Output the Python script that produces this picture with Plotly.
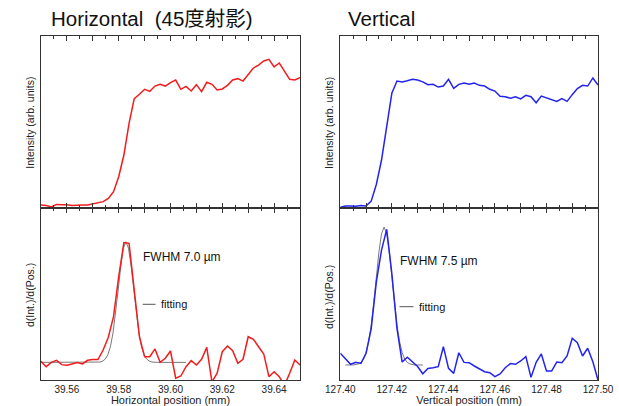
import plotly.graph_objects as go

# ---------------- data ----------------
h_x = [round(39.550 + 0.002 * i, 3) for i in range(51)]
h_int = [0.017, 0.014, 0.006, 0.021, 0.019, 0.019, 0.014, 0.017, 0.017, 0.017,
         0.023, 0.027, 0.037, 0.056, 0.095, 0.182, 0.308, 0.492, 0.636, 0.661,
         0.690, 0.678, 0.709, 0.719, 0.709, 0.729, 0.744, 0.690, 0.707, 0.680,
         0.717, 0.676, 0.731, 0.719, 0.686, 0.692, 0.713, 0.744, 0.752, 0.738,
         0.773, 0.814, 0.831, 0.855, 0.864, 0.820, 0.843, 0.793, 0.748, 0.744,
         0.758]
h_der = [0.110, 0.079, 0.104, 0.116, 0.091, 0.087, 0.095, 0.103, 0.095, 0.116,
         0.120, 0.120, 0.176, 0.250, 0.369, 0.602, 0.799, 0.795, 0.524, 0.253,
         0.137, 0.137, 0.182, 0.104, 0.128, 0.170, 0.012, 0.025, 0.079, 0.114,
         0.089, 0.122, 0.191, -0.010, 0.041, 0.166, 0.199, 0.172, 0.099, 0.122,
         0.253, 0.238, 0.195, 0.153, 0.021, 0.050, 0.021, -0.030, 0.041, 0.118,
         0.089]
h_fit_x = [39.550, 39.570, 39.5728, 39.5738, 39.5748, 39.5758, 39.5768, 39.5778,
           39.5788, 39.5798, 39.5808, 39.5818, 39.5828, 39.5838, 39.5848, 39.5858,
           39.5868, 39.5878, 39.5888, 39.5898, 39.5908, 39.5918, 39.5928, 39.595, 39.606]
h_fit_y = [0.104, 0.104, 0.106, 0.111, 0.123, 0.148, 0.195, 0.274, 0.387, 0.524,
           0.662, 0.766, 0.804, 0.766, 0.662, 0.524, 0.387, 0.274, 0.195, 0.148,
           0.123, 0.111, 0.106, 0.104, 0.104]

v_x = [round(127.400 + 0.002 * i, 3) for i in range(51)]
v_int = [0.004, 0.012, 0.012, 0.010, 0.014, 0.012, 0.040, 0.138, 0.279, 0.473,
         0.667, 0.738, 0.733, 0.740, 0.748, 0.744, 0.733, 0.717, 0.719, 0.703,
         0.709, 0.748, 0.696, 0.719, 0.727, 0.719, 0.727, 0.713, 0.709, 0.690,
         0.680, 0.649, 0.647, 0.638, 0.647, 0.634, 0.655, 0.647, 0.612, 0.651,
         0.641, 0.632, 0.620, 0.636, 0.620, 0.659, 0.694, 0.713, 0.709, 0.756,
         0.715]
v_der = [0.157, 0.128, 0.093, 0.104, 0.098, 0.157, 0.300, 0.573, 0.756, 0.876,
         0.620, 0.300, 0.106, 0.134, 0.106, 0.080, 0.038, 0.069, 0.073, 0.079,
         0.195, 0.069, 0.040, 0.160, 0.104, 0.102, 0.083, 0.064, 0.050, 0.044,
         0.021, 0.037, 0.073, 0.097, 0.093, 0.112, 0.137, 0.017, 0.104, 0.153,
         0.054, 0.054, 0.106, 0.102, 0.141, 0.244, 0.218, 0.141, 0.186, 0.108,
         0.002]
v_fit_x = [127.402, 127.405, 127.407, 127.408, 127.409, 127.410, 127.411, 127.412,
           127.413, 127.414, 127.415, 127.416, 127.417, 127.418, 127.419, 127.420,
           127.421, 127.422, 127.423, 127.424, 127.425, 127.426, 127.427, 127.429, 127.432]
v_fit_y = [0.089, 0.089, 0.095, 0.104, 0.123, 0.161, 0.225, 0.322, 0.453, 0.602,
           0.746, 0.851, 0.889, 0.851, 0.746, 0.602, 0.453, 0.322, 0.225, 0.161,
           0.123, 0.104, 0.095, 0.089, 0.089]

h_ticks = [39.56, 39.58, 39.60, 39.62, 39.64]
v_ticks = [127.40, 127.42, 127.44, 127.46, 127.48, 127.50]
h_range = [39.55, 39.65]
v_range = [127.40, 127.50]

# ---------------- layout helpers ----------------
W, H = 619, 406
FONT = "Liberation Sans, Arial, Noto Sans CJK JP, sans-serif"
RED = "#f21c1c"
BLUE = "#2323f0"
FITC = "#555555"

def px(x):
    return x / W

def py(y):
    return 1 - y / H

LX = [px(41), px(300)]
RX = [px(340.3), px(598)]
TOPY = [py(208), py(36)]
BOTY = [py(380.3), py(208)]

fig = go.Figure()

fig.add_trace(go.Scatter(x=h_x, y=h_int, mode="lines", line=dict(color=RED, width=1.5),
                         xaxis="x", yaxis="y", showlegend=False))
fig.add_trace(go.Scatter(x=h_fit_x, y=h_fit_y, mode="lines", line=dict(color=FITC, width=0.8),
                         xaxis="x2", yaxis="y2", showlegend=False))
fig.add_trace(go.Scatter(x=h_x, y=h_der, mode="lines", line=dict(color=RED, width=1.5),
                         xaxis="x2", yaxis="y2", showlegend=False))
fig.add_trace(go.Scatter(x=v_x, y=v_int, mode="lines", line=dict(color=BLUE, width=1.5),
                         xaxis="x3", yaxis="y3", showlegend=False))
fig.add_trace(go.Scatter(x=v_fit_x, y=v_fit_y, mode="lines", line=dict(color=FITC, width=0.8),
                         xaxis="x4", yaxis="y4", showlegend=False))
fig.add_trace(go.Scatter(x=v_x, y=v_der, mode="lines", line=dict(color=BLUE, width=1.5),
                         xaxis="x4", yaxis="y4", showlegend=False))
# empty traces to register tick-overlay axes
fig.add_trace(go.Scatter(x=[], y=[], xaxis="x5", yaxis="y2", showlegend=False))
fig.add_trace(go.Scatter(x=[], y=[], xaxis="x6", yaxis="y4", showlegend=False))

axcol = "#333333"
tick_in = dict(ticks="inside", ticklen=5, tickcolor=axcol, tickwidth=1,
               minor=dict(dtick=0.005, ticks="inside", ticklen=3, tickcolor=axcol))
common_y = dict(showgrid=False, zeroline=False, showline=True, linecolor=axcol, linewidth=1,
                mirror=True, showticklabels=False, ticks="", range=[0, 1], fixedrange=True,
                automargin=False)

def top_x(domain, rng, anchor):
    return dict(showgrid=False, zeroline=False, showline=True, linecolor=axcol, linewidth=1,
                mirror="allticks", domain=domain, range=rng, anchor=anchor, showticklabels=False,
                tick0=rng[0], dtick=0.01, automargin=False, **tick_in)

def bot_x(domain, rng, anchor, ticks, title):
    return dict(showgrid=False, zeroline=False, showline=True, linecolor=axcol, linewidth=1,
                mirror=True, domain=domain, range=rng, anchor=anchor, ticks="",
                tickvals=ticks, tickformat=".2f", automargin=False,
                tickfont=dict(family=FONT, size=10, color="#222"),
                title=dict(text=title, font=dict(family=FONT, size=11, color="#222"), standoff=2))

def over_x(domain, rng, anchor, over):
    return dict(showgrid=False, zeroline=False, showline=False, domain=domain, range=rng,
                anchor=anchor, overlaying=over, side="top", showticklabels=False,
                tick0=rng[0], dtick=0.01, automargin=False, **tick_in)

fig.update_layout(
    width=W, height=H,
    margin=dict(l=0, r=0, t=0, b=0, autoexpand=False),
    paper_bgcolor="white", plot_bgcolor="white",
    font=dict(family=FONT, color="#222"),
    xaxis=top_x(LX, h_range, "y"),
    yaxis=dict(**common_y, domain=TOPY, anchor="x"),
    xaxis2=bot_x(LX, h_range, "y2", h_ticks, "Horizontal position (mm)"),
    yaxis2=dict(**common_y, domain=BOTY, anchor="x2"),
    xaxis3=top_x(RX, v_range, "y3"),
    yaxis3=dict(**common_y, domain=TOPY, anchor="x3"),
    xaxis4=bot_x(RX, v_range, "y4", v_ticks, "Vertical position (mm)"),
    yaxis4=dict(**common_y, domain=BOTY, anchor="x4"),
    xaxis5=over_x(LX, h_range, "y2", "x2"),
    xaxis6=over_x(RX, v_range, "y4", "x4"),
)

ann = []
ann.append(dict(text="Horizontal  (45度射影)", x=px(48.5), y=py(18), xref="paper", yref="paper",
                xanchor="left", yanchor="middle", showarrow=False,
                font=dict(family=FONT, size=20.5, color="#111")))
ann.append(dict(text="Vertical", x=px(345.5), y=py(18), xref="paper", yref="paper",
                xanchor="left", yanchor="middle", showarrow=False,
                font=dict(family=FONT, size=20.5, color="#111")))
for xx, yy, t in [(30, 122.7, "Intensity (arb. units)"), (328.3, 122.7, "Intensity (arb. units)"),
                  (30, 295, "d(Int.)/d(Pos.)"), (328.3, 296.7, "d(Int.)/d(Pos.)")]:
    ann.append(dict(text=t, x=px(xx), y=py(yy), xref="paper", yref="paper", textangle=-90,
                    xanchor="center", yanchor="middle", showarrow=False,
                    font=dict(family=FONT, size=10.5, color="#222")))
ann.append(dict(text="FWHM 7.0 µm", x=px(141), y=py(257), xref="paper", yref="paper",
                xanchor="left", yanchor="middle", showarrow=False,
                font=dict(family=FONT, size=12, color="#111")))
ann.append(dict(text="FWHM 7.5 µm", x=px(398), y=py(261), xref="paper", yref="paper",
                xanchor="left", yanchor="middle", showarrow=False,
                font=dict(family=FONT, size=12, color="#111")))
ann.append(dict(text="fitting", x=px(159), y=py(304), xref="paper", yref="paper",
                xanchor="left", yanchor="middle", showarrow=False,
                font=dict(family=FONT, size=11, color="#111")))
ann.append(dict(text="fitting", x=px(417), y=py(307), xref="paper", yref="paper",
                xanchor="left", yanchor="middle", showarrow=False,
                font=dict(family=FONT, size=11, color="#111")))
fig.update_layout(annotations=ann)

fig.add_shape(type="line", xref="paper", yref="paper", x0=px(142.7), x1=px(155.5),
              y0=py(304.3), y1=py(304.3), line=dict(color=FITC, width=1))
fig.add_shape(type="rect", xref="paper", yref="paper", x0=px(397.5), x1=px(445),
              y0=py(313.5), y1=py(300), fillcolor="white", line=dict(width=0))
fig.add_shape(type="line", xref="paper", yref="paper", x0=px(399.5), x1=px(413.5),
              y0=py(306.7), y1=py(306.7), line=dict(color=FITC, width=1))

fig.write_html("out.html")
